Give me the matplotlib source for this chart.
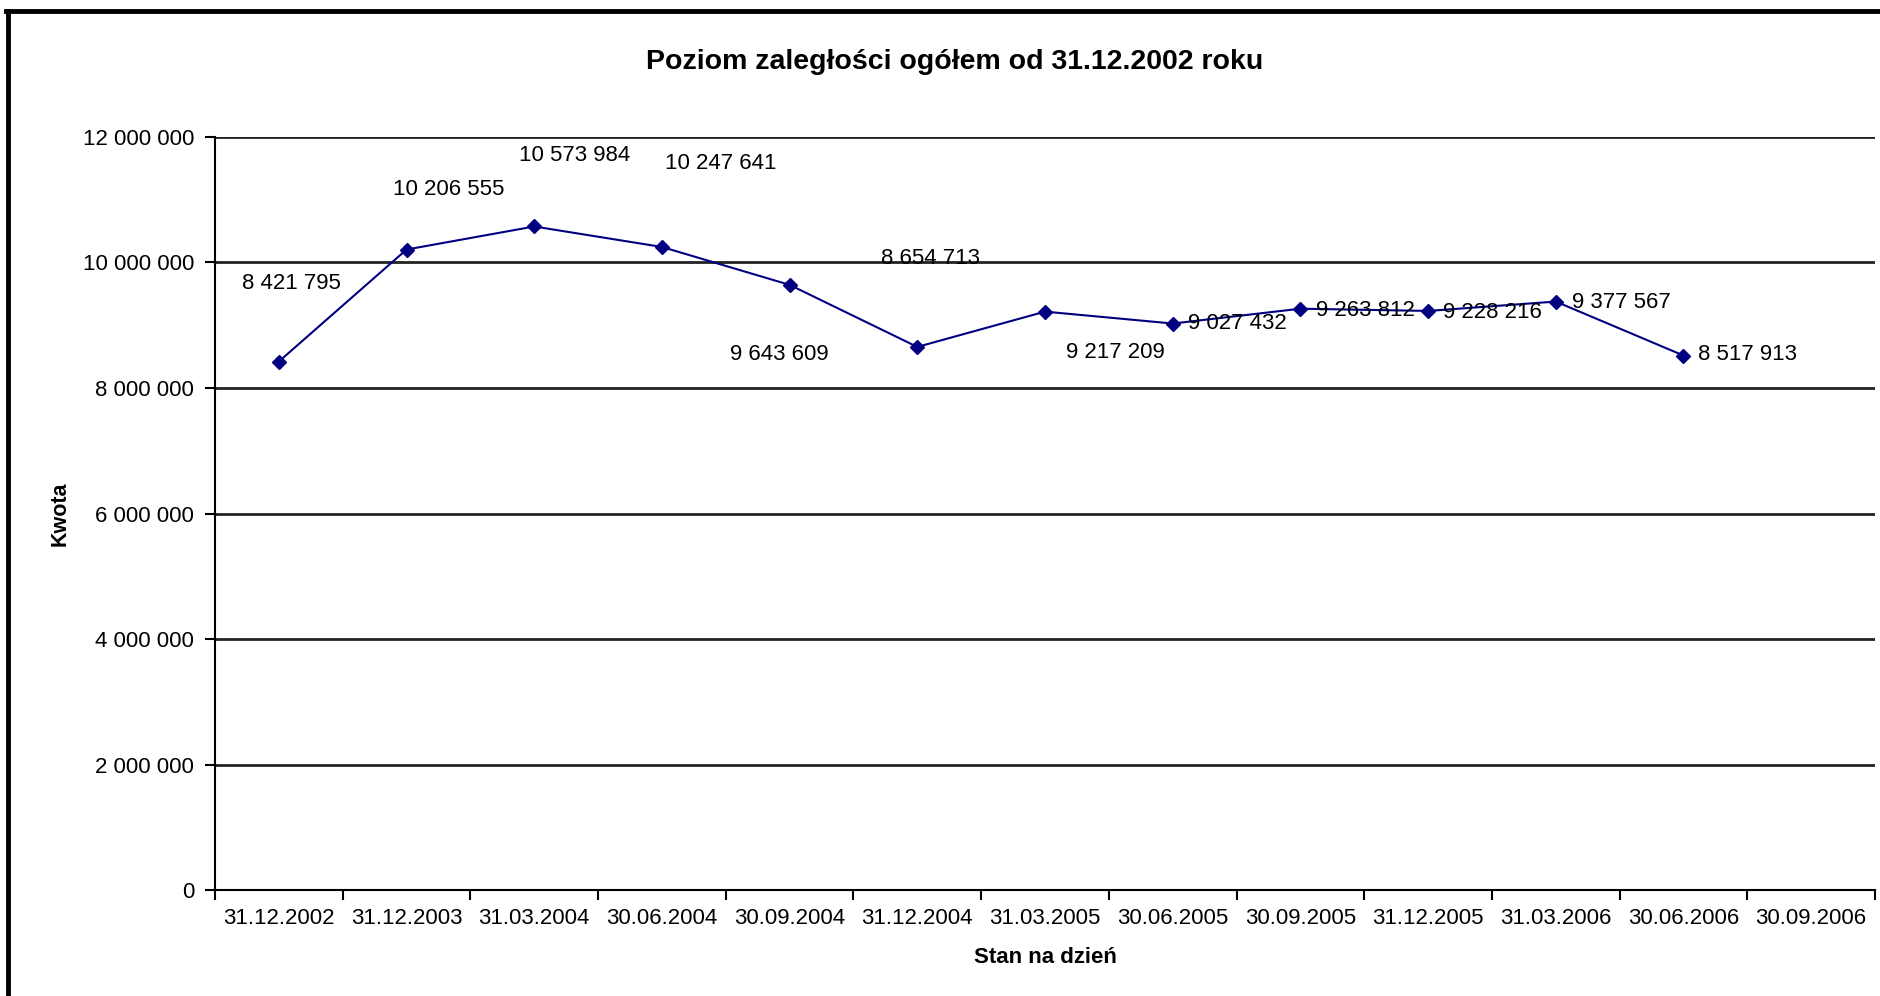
import matplotlib
matplotlib.use("Agg")
import matplotlib.pyplot as plt
from matplotlib.lines import Line2D
from matplotlib.ticker import FuncFormatter, MultipleLocator

plt.rcParams["font.family"] = ["Liberation Sans", "DejaVu Sans"]

NAVY = "#000080"

dates = ["31.12.2002", "31.12.2003", "31.03.2004", "30.06.2004", "30.09.2004",
         "31.12.2004", "31.03.2005", "30.06.2005", "30.09.2005", "31.12.2005",
         "31.03.2006", "30.06.2006", "30.09.2006"]
values = [8421795, 10206555, 10573984, 10247641, 9643609, 8654713,
          9217209, 9027432, 9263812, 9228216, 9377567, 8517913]

# label placement (Excel labels were dragged by hand): x in category units, y in data units
label_x = [0.10, 1.33, 2.32, 3.46, 3.92, 5.10, 6.55, 7.12, 8.12, 9.12, 10.13, 11.11]
label_y = [9.67e6, 11.16e6, 11.70e6, 11.57e6, 8.53e6, 10.07e6,
           8.56e6, 9.02e6, 9.24e6, 9.21e6, 9.37e6, 8.53e6]
label_ha = ["center"] * 7 + ["left"] * 5


def pl_thousands(v, pos):
    return f"{int(v):,}".replace(",", " ")


fig = plt.figure(figsize=(18.81, 9.96), dpi=100)
ax = fig.add_axes([215 / 1881, 1 - 890 / 996, 1660 / 1881, 753 / 996])

xs = list(range(len(values)))
ax.plot(xs, values, color=NAVY, linewidth=1.5, marker="D", markersize=7,
        markerfacecolor=NAVY, markeredgecolor=NAVY, zorder=3)

for x, y, v, ha in zip(label_x, label_y, values, label_ha):
    ax.text(x, y, pl_thousands(v, None), ha=ha, va="center", fontsize=16, zorder=4)

ax.set_xlim(-0.5, len(dates) - 0.5)
ax.set_ylim(0, 12000000)
ax.yaxis.set_major_locator(MultipleLocator(2000000))
ax.yaxis.set_major_formatter(FuncFormatter(pl_thousands))
ax.grid(axis="y", color="#222222", linewidth=2)
ax.set_axisbelow(True)

# category labels centred, ticks between categories
ax.set_xticks([i - 0.5 for i in range(len(dates) + 1)])
ax.set_xticklabels([])
ax.set_xticks(range(len(dates)), minor=True)
ax.set_xticklabels(dates, minor=True, fontsize=16)
ax.tick_params(axis="x", which="minor", length=0, pad=13)
ax.tick_params(axis="x", which="major", length=7, width=1.5, direction="out")
ax.tick_params(axis="y", length=7, width=1.5, labelsize=16, pad=8)

for side in ["top", "right"]:
    ax.spines[side].set_visible(False)
for side in ["left", "bottom"]:
    ax.spines[side].set_linewidth(1.5)

ax.set_xlabel("Stan na dzień", fontsize=16, fontweight="bold", labelpad=13)
fig.text(60 / 1881, 1 - 514 / 996, "Kwota", rotation=90, fontsize=15.5,
         fontweight="bold", ha="center", va="center")
fig.text(955 / 1881, 1 - 62 / 996, "Poziom zaległości ogółem od 31.12.2002 roku",
         fontsize=20.5, fontweight="bold", ha="center", va="center")

# frame on the left and top edge of the screenshot
fig.add_artist(Line2D([8 / 1881, 8 / 1881], [0, 1 - 11 / 996], color="black", linewidth=3.5))
fig.add_artist(Line2D([6 / 1881, 1], [1 - 11 / 996, 1 - 11 / 996], color="black", linewidth=3.5))

fig.savefig("out.png", dpi=100, facecolor="white")
